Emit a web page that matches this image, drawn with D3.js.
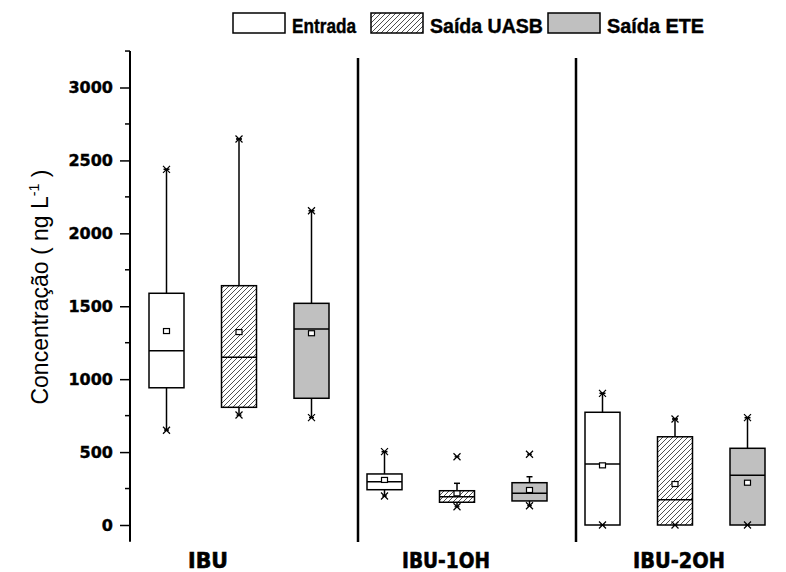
<!DOCTYPE html>
<html>
<head>
<meta charset="utf-8">
<script src="https://cdn.jsdelivr.net/npm/d3@7"></script>
<style>
  body { margin: 0; background: #fff; }
  svg { display: block; }
</style>
</head>
<body>
<svg id="chart" width="786" height="572"></svg>
<script>
// Compounds (x groups) and sampling points (series)
const groups = ["IBU", "IBU-1OH", "IBU-2OH"];
const series = ["Entrada", "Saída UASB", "Saída ETE"];
const yTicks = [0, 500, 1000, 1500, 2000, 2500, 3000];

// Box statistics, ng L-1, indexed [group][series]
const q1Values      = [[941, 807, 869], [242, 156, 165], [0, 0, 0]];
const medianValues  = [[1195, 1150, 1344], [297, 194, 217], [418, 174, 341]];
const q3Values      = [[1589, 1641, 1520], [350, 235, 290], [773, 605, 526]];
const meanValues    = [[1330, 1323, 1315], [309, 217, 240], [409, 281, 290]];
const whiskerLow    = [[650, 754, 736], [199, 125, 132], [0, 0, 0]];
const whiskerHigh   = [[2439, 2647, 2155], [503, 286, 331], [903, 727, 736]];
const minValues     = [[650, 754, 736], [199, 125, 132], [0, 0, 0]];
const maxValues     = [[2439, 2647, 2155], [503, 468, 485], [903, 727, 736]];

const svg = d3.select("#chart");

// Scales
const y = d3.scaleLinear().domain([0, 3000]).range([525, 87.5]);
const x = d3.scaleBand().domain(groups).range([130, 784]).padding(0);
const xs = d3.scalePoint().domain(series).range([36.5, 181.5]);
const boxW = 35;

// Fills
const defs = svg.append("defs");
const hatch = defs.append("pattern")
  .attr("id", "hatch")
  .attr("patternUnits", "userSpaceOnUse")
  .attr("width", 5).attr("height", 5);
hatch.append("rect").attr("width", 5).attr("height", 5).attr("fill", "#fff");
hatch.append("path")
  .attr("d", "M0,5 L5,0 M-1,1 L1,-1 M4,6 L6,4")
  .attr("stroke", "#222").attr("stroke-width", 0.8);

const fills = ["#ffffff", "url(#hatch)", "#c0c0c0"];

// Y axis with minor ticks
const yAxisG = svg.append("g").attr("transform", "translate(130,0)");
yAxisG.append("line")
  .attr("x1", 0).attr("x2", 0)
  .attr("y1", y(-115)).attr("y2", y(3250))
  .attr("stroke", "#000").attr("stroke-width", 2);

const minorTicks = d3.range(250, 3500, 500);
yAxisG.selectAll("line.minor").data(minorTicks).join("line")
  .attr("class", "minor")
  .attr("x1", -5).attr("x2", 0)
  .attr("y1", d => y(d)).attr("y2", d => y(d))
  .attr("stroke", "#000").attr("stroke-width", 1.5);

const yAxis = d3.axisLeft(y)
  .tickValues(yTicks)
  .tickFormat(d3.format("d"))
  .tickSizeInner(10).tickSizeOuter(0).tickPadding(7);
const axisSel = yAxisG.append("g").call(yAxis);
axisSel.select(".domain").remove();
axisSel.selectAll(".tick line").attr("stroke", "#000").attr("stroke-width", 1.5);
axisSel.selectAll(".tick text")
  .attr("fill", "#000")
  .attr("stroke", "#000").attr("stroke-width", 0.4)
  .style("font-family", "'DejaVu Sans', sans-serif")
  .style("font-weight", "bold")
  .style("font-size", "16px");

// Y axis title
const yTitle = svg.append("text")
  .attr("transform", "translate(48,287) rotate(-90)")
  .attr("text-anchor", "middle")
  .attr("textLength", 235)
  .attr("lengthAdjust", "spacingAndGlyphs")
  .style("font-family", "'Liberation Sans', Arial, sans-serif")
  .style("font-size", "24px")
  .attr("fill", "#000");
yTitle.append("tspan").text("Concentração ( ng L");
yTitle.append("tspan").attr("dy", -9).style("font-size", "15px").text("-1");
yTitle.append("tspan").attr("dy", 9).text(" )");

// Group separators
svg.selectAll("line.sep").data(groups.slice(0, -1)).join("line")
  .attr("class", "sep")
  .attr("x1", d => x(d) + x.bandwidth() + 10)
  .attr("x2", d => x(d) + x.bandwidth() + 10)
  .attr("y1", 58).attr("y2", 542)
  .attr("stroke", "#000").attr("stroke-width", 2.5);

// Boxes
const boxData = [];
groups.forEach((g, gi) => series.forEach((s, si) => {
  boxData.push({
    g, s, si,
    cx: x(g) + xs(s),
    q1: q1Values[gi][si], med: medianValues[gi][si], q3: q3Values[gi][si],
    mean: meanValues[gi][si],
    wl: whiskerLow[gi][si], wh: whiskerHigh[gi][si],
    mn: minValues[gi][si], mx: maxValues[gi][si]
  });
}));

const box = svg.selectAll("g.box").data(boxData).join("g").attr("class", "box");

// whiskers
box.append("line")
  .attr("x1", d => d.cx).attr("x2", d => d.cx)
  .attr("y1", d => y(d.q3)).attr("y2", d => y(d.wh))
  .attr("stroke", "#000").attr("stroke-width", 1.5);
box.append("line")
  .attr("x1", d => d.cx).attr("x2", d => d.cx)
  .attr("y1", d => y(d.q1)).attr("y2", d => y(d.wl))
  .attr("stroke", "#000").attr("stroke-width", 1.5);
// whisker caps
box.append("line")
  .attr("x1", d => d.cx - 3).attr("x2", d => d.cx + 3)
  .attr("y1", d => y(d.wh)).attr("y2", d => y(d.wh))
  .attr("stroke", "#000").attr("stroke-width", 1.5);

// box body
box.append("rect")
  .attr("x", d => d.cx - boxW / 2)
  .attr("width", boxW)
  .attr("y", d => y(d.q3))
  .attr("height", d => y(d.q1) - y(d.q3))
  .attr("fill", d => fills[d.si])
  .attr("stroke", "#000").attr("stroke-width", 1.5);

// median
box.append("line")
  .attr("x1", d => d.cx - boxW / 2).attr("x2", d => d.cx + boxW / 2)
  .attr("y1", d => y(d.med)).attr("y2", d => y(d.med))
  .attr("stroke", "#000").attr("stroke-width", 1.5);

// mean marker
box.append("rect")
  .attr("x", d => d.cx - 3).attr("y", d => y(d.mean) - 2.5)
  .attr("width", 6).attr("height", 5)
  .attr("fill", "#fff").attr("stroke", "#000").attr("stroke-width", 1.2);

// min / max markers
function crossPath(cx, cy) {
  const r = 3.5;
  return `M${cx - r},${cy - r}L${cx + r},${cy + r}M${cx - r},${cy + r}L${cx + r},${cy - r}M${cx - 2.5},${cy}L${cx + 2.5},${cy}`;
}
box.append("path")
  .attr("d", d => crossPath(d.cx, y(d.mx)))
  .attr("fill", "none").attr("stroke", "#000").attr("stroke-width", 1.2);
box.append("path")
  .attr("d", d => crossPath(d.cx, y(d.mn)))
  .attr("fill", "none").attr("stroke", "#000").attr("stroke-width", 1.2);

// Group labels
const labelShift = [-31, -11, 4];
const labelLen = [40, 88, 92];
svg.selectAll("text.group").data(groups).join("text")
  .attr("class", "group")
  .attr("x", (d, i) => x(d) + x.bandwidth() / 2 + labelShift[i])
  .attr("y", 568)
  .attr("text-anchor", "middle")
  .attr("textLength", (d, i) => labelLen[i])
  .attr("lengthAdjust", "spacingAndGlyphs")
  .style("font-family", "'DejaVu Sans', sans-serif")
  .style("font-weight", "bold")
  .style("font-size", "21px")
  .attr("fill", "#000")
  .attr("stroke", "#000").attr("stroke-width", 0.6)
  .text(d => d);

// Legend
const legendX = [233, 371, 548];
const legendTextLen = [64, 113, 97];
const legend = svg.selectAll("g.legend").data(series).join("g")
  .attr("class", "legend")
  .attr("transform", (d, i) => `translate(${legendX[i]},13)`);
legend.append("rect")
  .attr("width", 52).attr("height", 20)
  .attr("fill", (d, i) => fills[i])
  .attr("stroke", "#000").attr("stroke-width", 1.5);
legend.append("text")
  .attr("x", 59).attr("y", 20)
  .attr("textLength", (d, i) => legendTextLen[i])
  .attr("lengthAdjust", "spacingAndGlyphs")
  .style("font-family", "'Liberation Sans Narrow', 'Liberation Sans', Arial, sans-serif")
  .style("font-weight", "bold")
  .style("font-size", "20px")
  .attr("fill", "#000")
  .attr("stroke", "#000").attr("stroke-width", 0.4)
  .text(d => d);
</script>
</body>
</html>
